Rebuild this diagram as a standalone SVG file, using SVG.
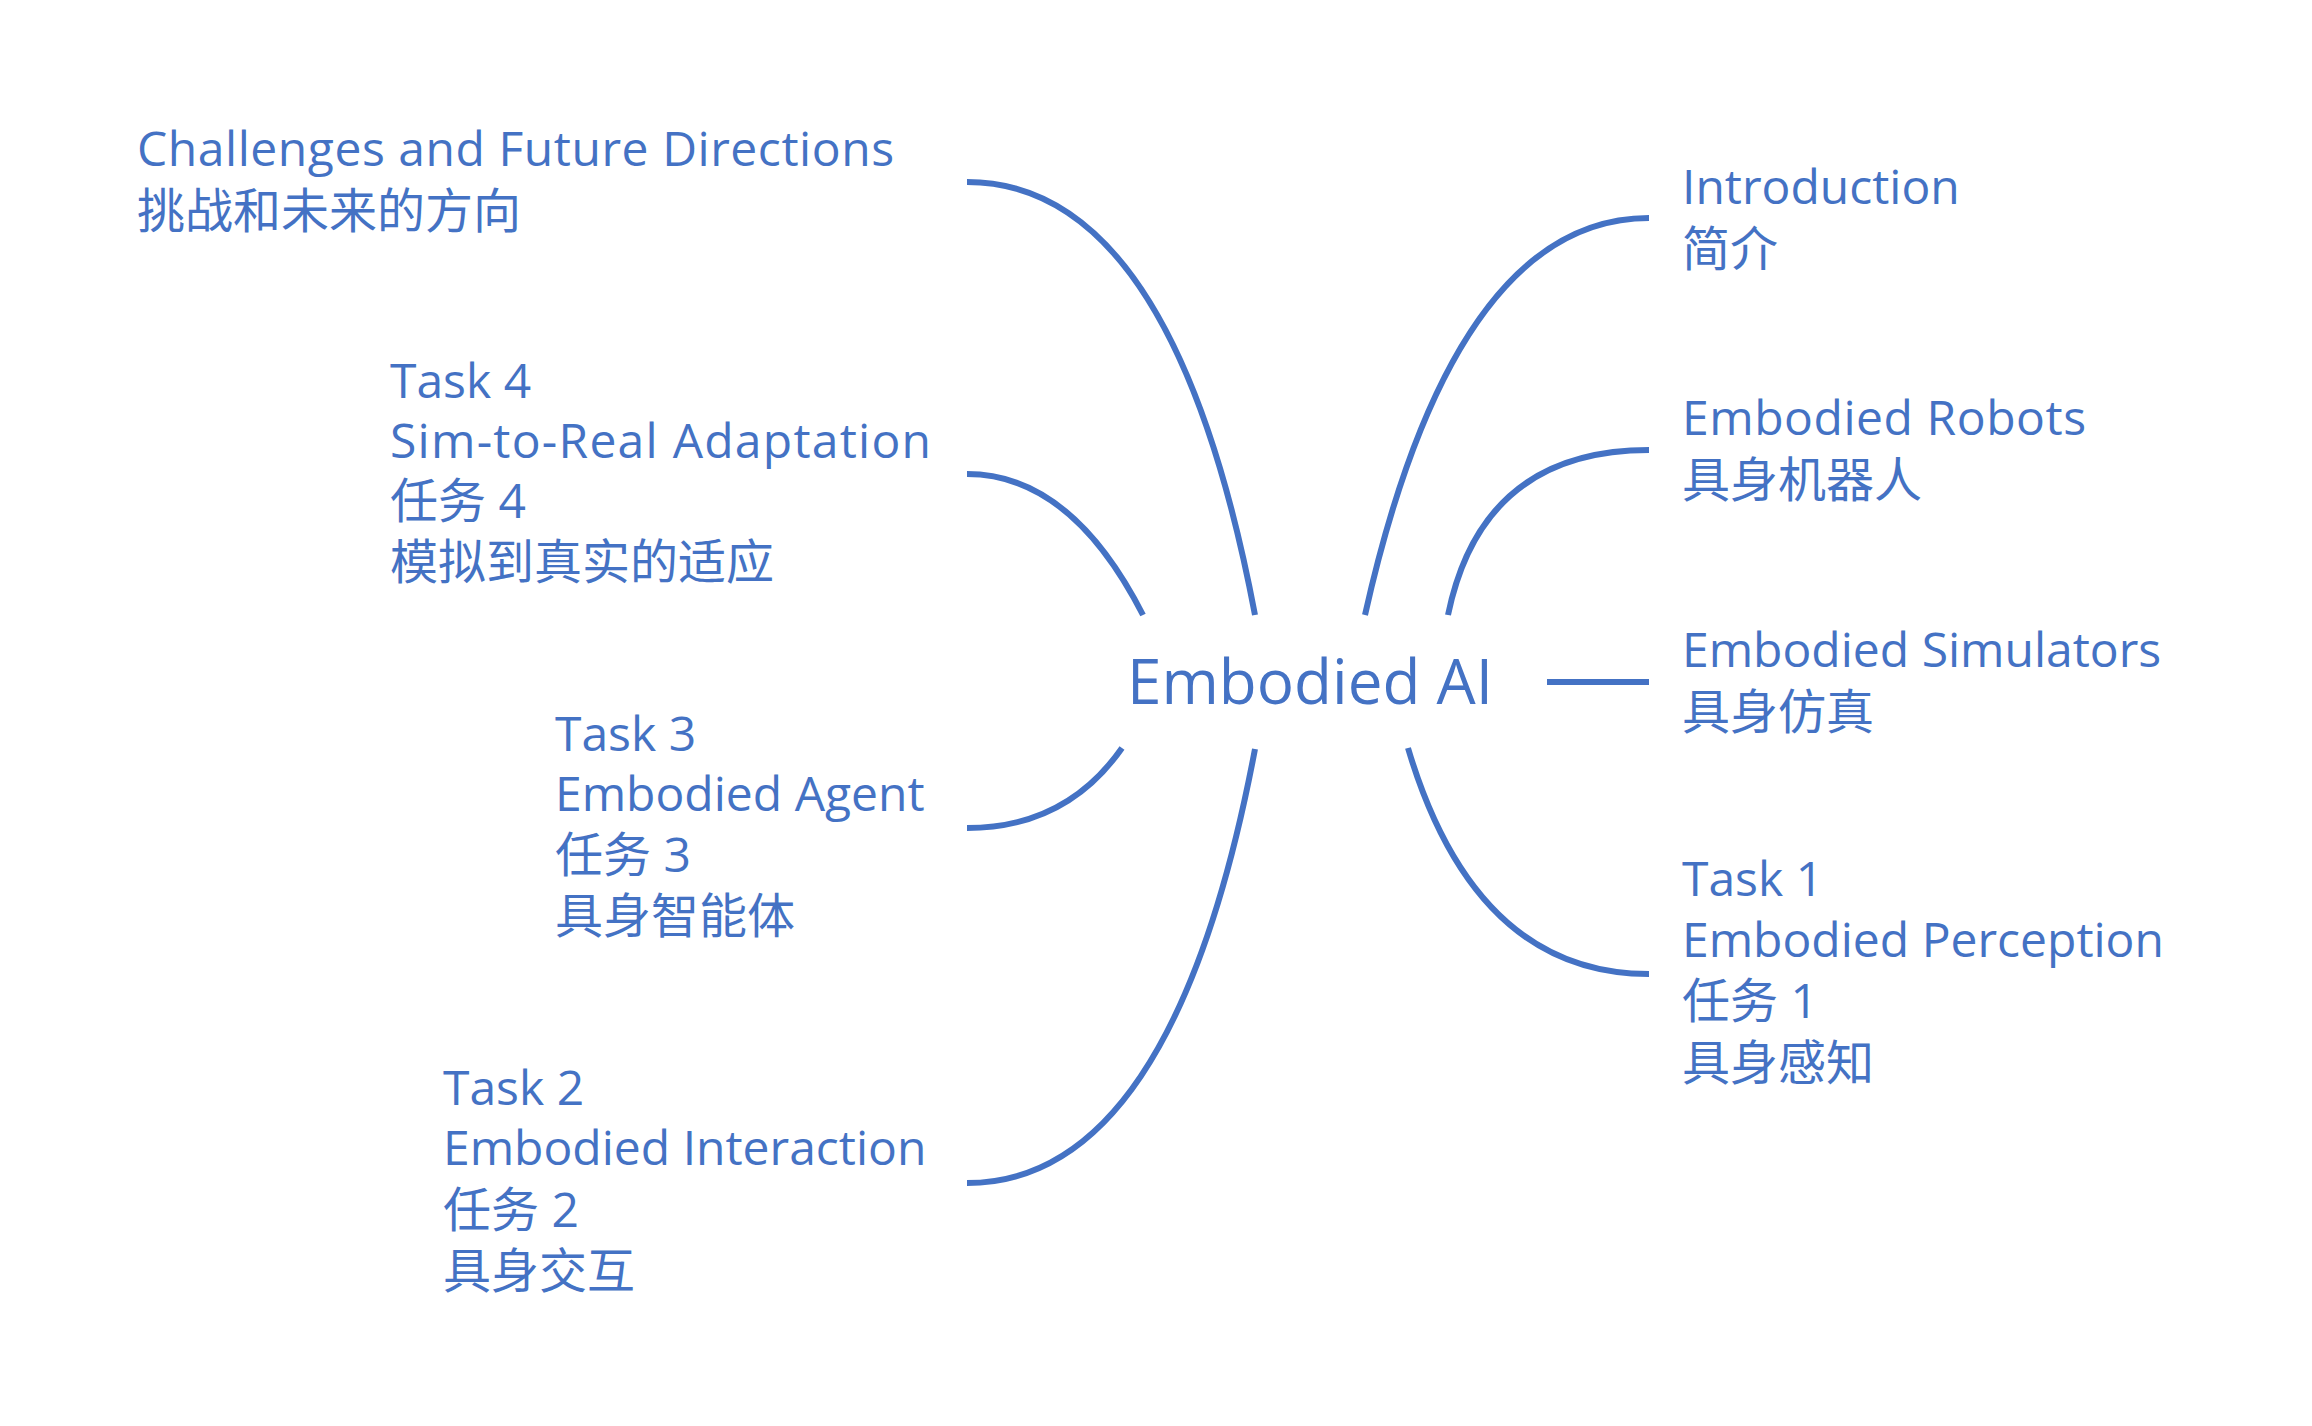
<svg xmlns="http://www.w3.org/2000/svg" width="2312" height="1426" viewBox="0 0 2312 1426">
  <style>
    .t { font-family: "Open Sans", "Noto Sans CJK SC", sans-serif; font-size: 48px; fill: #4472C4; }
    .c { font-family: "Open Sans", "Noto Sans CJK SC", sans-serif; font-size: 62px; fill: #4472C4; }
    .e { fill: none; stroke: #4472C4; stroke-width: 6; }
  </style>
  <rect width="2312" height="1426" fill="#FFFFFF"/>
  <g id="connectors">
    <path class="e" d="M 967,182 Q 1173,182 1255,615"/>
    <path class="e" d="M 967,474 Q 1071,474 1143,615"/>
    <path class="e" d="M 967,828 Q 1066,828 1122,748"/>
    <path class="e" d="M 967,1183 Q 1173,1183 1255,749"/>
    <path class="e" d="M 1649,218 Q 1454,218 1365,615"/>
    <path class="e" d="M 1649,450 Q 1482,450 1448,615"/>
    <path class="e" d="M 1547,682 L 1649,682"/>
    <path class="e" d="M 1649,974 Q 1475,974 1408,748"/>
  </g>
  <g id="center">
    <text class="c" x="1127" y="704">Embodied AI</text>
  </g>
  <g id="challenges">
    <text class="t" x="137" y="166" textLength="757">Challenges and Future Directions</text>
    <text class="t" x="137" y="228">挑战和未来的方向</text>
  </g>
  <g id="task4">
    <text class="t" x="390" y="398">Task 4</text>
    <text class="t" x="390" y="458" textLength="541">Sim-to-Real Adaptation</text>
    <text class="t" x="390" y="518">任务 4</text>
    <text class="t" x="390" y="579">模拟到真实的适应</text>
  </g>
  <g id="task3">
    <text class="t" x="555" y="751">Task 3</text>
    <text class="t" x="555" y="811">Embodied Agent</text>
    <text class="t" x="555" y="872">任务 3</text>
    <text class="t" x="555" y="933">具身智能体</text>
  </g>
  <g id="task2">
    <text class="t" x="443" y="1105">Task 2</text>
    <text class="t" x="443" y="1165">Embodied Interaction</text>
    <text class="t" x="443" y="1227">任务 2</text>
    <text class="t" x="443" y="1288">具身交互</text>
  </g>
  <g id="introduction">
    <text class="t" x="1682" y="204">Introduction</text>
    <text class="t" x="1682" y="266">简介</text>
  </g>
  <g id="robots">
    <text class="t" x="1682" y="435" textLength="404">Embodied Robots</text>
    <text class="t" x="1682" y="497">具身机器人</text>
  </g>
  <g id="simulators">
    <text class="t" x="1682" y="667">Embodied Simulators</text>
    <text class="t" x="1682" y="729">具身仿真</text>
  </g>
  <g id="task1">
    <text class="t" x="1682" y="896">Task 1</text>
    <text class="t" x="1682" y="957">Embodied Perception</text>
    <text class="t" x="1682" y="1018">任务 1</text>
    <text class="t" x="1682" y="1080">具身感知</text>
  </g>
</svg>
